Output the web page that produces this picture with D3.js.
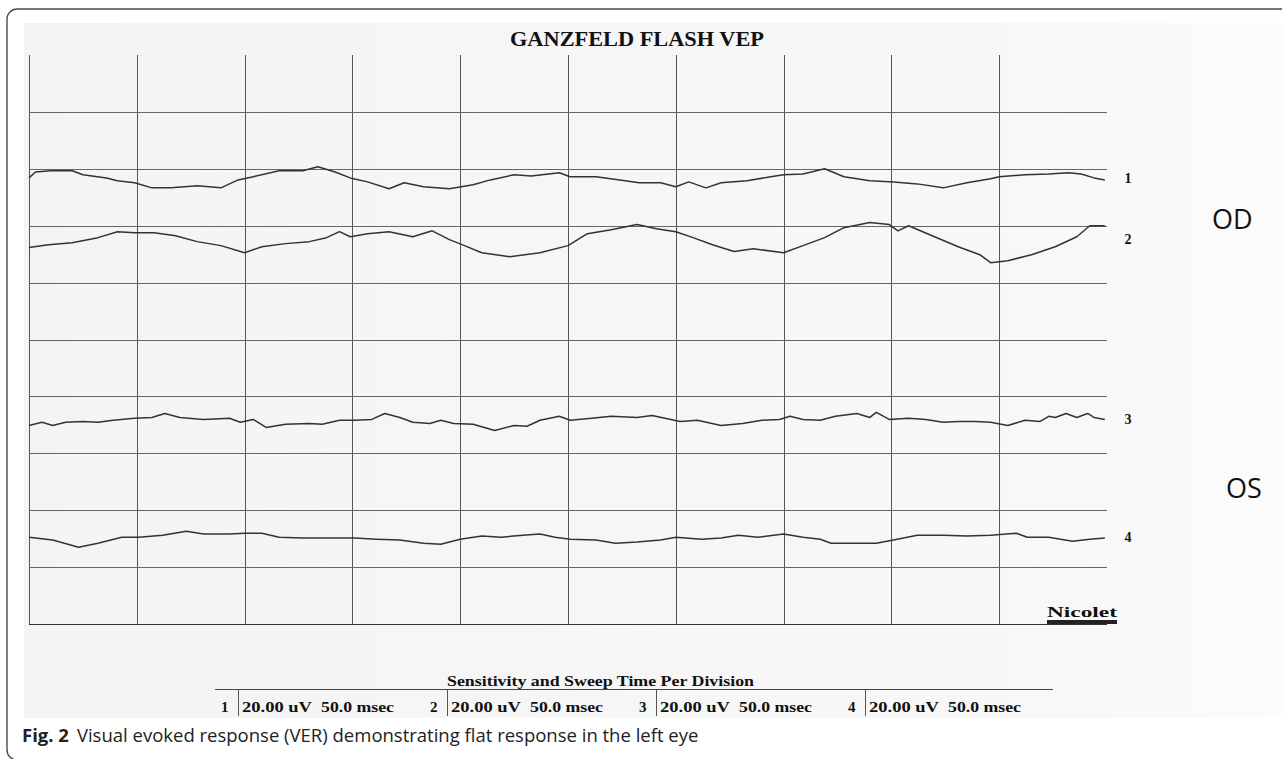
<!DOCTYPE html>
<html><head><meta charset="utf-8">
<script src="https://cdn.jsdelivr.net/npm/d3@7"></script>
<style>body{margin:0;background:#fff;}svg{display:block;}</style>
</head><body>
<svg id="c" width="1282" height="759"></svg>
<script>
// ---------- data ----------
const titleText = "GANZFELD FLASH VEP";
const channelLabels = ["1", "2", "3", "4"];
const eyeLabels = ["OD", "OS"];
const sensitivity = ["20.00 uV", "20.00 uV", "20.00 uV", "20.00 uV"];
const sweepTime = ["50.0 msec", "50.0 msec", "50.0 msec", "50.0 msec"];
const footerTitle = "Sensitivity and Sweep Time Per Division";
const brandText = "Nicolet";
const captionBold = "Fig. 2";
const captionText = "Visual evoked response (VER) demonstrating flat response in the left eye";

const timeTicks = d3.range(0, 500, 50);      // ms, one division = 50 ms
const ampTicks = d3.range(0, 200, 20);       // uV, one division = 20 uV
const channelRef = [160, 140, 80, 40];       // reference gridline (uV) of each channel

// channel 1 (OD)
const ch1Time = [0,3,10,20,25,36,41,49,57,66,78,89,97,104,116,127,134,142,149,157,167,174,183,195,206,214,225,233,246,251,263,274,283,293,300,306,314,321,333,344,350,359,369,378,390,401,412,424,435,446,450,462,473,482,488,494,499];
const ch1Amp = [-3.2,-1.1,-0.7,-0.7,-2.1,-3.2,-4.2,-4.9,-6.7,-6.7,-6.0,-6.7,-3.9,-2.8,-0.7,-0.7,0.7,-1.1,-3.2,-4.6,-7.0,-4.9,-6.3,-7.0,-5.6,-3.9,-2.1,-2.5,-1.4,-2.8,-2.8,-3.9,-4.9,-4.9,-6.3,-4.6,-6.7,-4.9,-4.2,-2.8,-2.1,-1.8,0,-2.8,-4.2,-4.6,-5.3,-6.7,-4.9,-3.5,-2.8,-2.1,-1.8,-1.4,-1.8,-3.2,-3.9];
// channel 2 (OD)
const ch2Time = [0,9,20,32,41,49,58,68,78,89,100,108,119,130,138,144,149,157,167,178,187,195,202,210,223,237,250,259,270,282,291,300,308,317,327,336,350,359,369,378,390,399,403,408,420,431,441,446,454,465,476,486,492,499];
const ch2Amp = [-7.7,-6.7,-6.0,-4.2,-2.1,-2.5,-2.5,-3.5,-5.6,-7.0,-9.5,-7.4,-6.3,-5.6,-4.2,-2.1,-3.9,-2.8,-2.1,-3.9,-1.8,-4.9,-7.0,-9.5,-10.9,-9.5,-7.0,-2.8,-1.4,0.4,-1.1,-2.1,-4.2,-6.7,-9.1,-8.1,-9.5,-7.0,-4.2,-0.7,1.1,0.4,-1.8,0,-3.9,-7.4,-10.2,-13.0,-12.3,-10.2,-7.4,-3.9,0,0];
// channel 3 (OS)
const ch3Time = [0,6,11,17,25,32,39,49,57,63,70,81,93,98,104,110,119,130,136,144,151,159,165,172,178,186,191,197,206,216,225,231,237,246,251,261,270,282,289,295,302,310,321,331,340,348,353,359,367,374,384,390,393,399,408,416,424,431,439,446,454,462,469,473,476,481,486,491,494,499];
const ch3Amp = [-10.2,-9.1,-10.2,-9.1,-8.8,-9.1,-8.4,-7.7,-7.4,-6.0,-7.4,-8.1,-7.7,-9.1,-8.1,-10.9,-9.8,-9.5,-9.8,-8.4,-8.4,-8.1,-6.0,-7.4,-9.1,-9.5,-8.4,-9.5,-9.8,-12.0,-10.2,-10.5,-8.4,-7.0,-8.4,-7.7,-7.0,-7.4,-6.7,-7.7,-8.8,-8.4,-10.2,-9.5,-8.4,-8.1,-7.0,-8.1,-8.4,-7.0,-6.0,-7.4,-5.6,-8.1,-7.7,-8.1,-9.1,-8.8,-8.8,-9.1,-10.2,-8.4,-8.8,-7.0,-7.4,-6.0,-7.4,-6.0,-7.4,-8.1];
// channel 4 (OS)
const ch4Time = [0,11,23,32,43,51,62,73,81,93,100,108,116,127,138,151,161,172,183,191,200,210,219,229,237,244,251,263,272,282,293,300,312,321,329,338,350,359,367,372,384,393,401,412,424,435,446,458,463,473,484,492,499];
const ch4Amp = [-9.5,-10.5,-13.0,-11.6,-9.5,-9.5,-8.8,-7.4,-8.4,-8.4,-8.1,-8.1,-9.5,-9.8,-9.8,-9.8,-10.2,-10.5,-11.6,-12.0,-10.2,-9.1,-9.5,-8.8,-8.4,-9.5,-10.2,-10.5,-11.6,-11.2,-10.5,-9.5,-10.2,-9.8,-8.8,-9.5,-8.4,-9.5,-10.2,-11.6,-11.6,-11.6,-10.5,-8.8,-8.8,-9.1,-8.8,-8.1,-9.5,-9.5,-10.9,-10.2,-9.8];

const channelTimes = [ch1Time, ch2Time, ch3Time, ch4Time];
const channelAmps = [ch1Amp, ch2Amp, ch3Amp, ch4Amp];

// ---------- drawing ----------
const svg = d3.select("#c");
const serif = "'Liberation Serif','Times New Roman',serif";
const sans = "'Open Sans','Noto Sans',sans-serif";

// scanned page background
const grad = svg.append("defs").append("linearGradient").attr("id", "scan");
grad.append("stop").attr("offset", "0%").attr("stop-color", "#f4f4f4");
grad.append("stop").attr("offset", "85%").attr("stop-color", "#f8f8f8");
grad.append("stop").attr("offset", "100%").attr("stop-color", "#fcfcfc");
svg.append("rect").attr("x", 24).attr("y", 23).attr("width", 1258).attr("height", 695)
  .attr("fill", "url(#scan)");

// outer rounded frame
svg.append("rect").attr("x", 7).attr("y", 9).attr("width", 1300).attr("height", 751)
  .attr("rx", 10).attr("fill", "none").attr("stroke", "#4a4a4a").attr("stroke-width", 1.4);

const x = d3.scaleLinear().domain([0, 500]).range([29, 1107]);
const y = d3.scaleLinear().domain([0, 200]).range([624, 55]);

// grid
const grid = svg.append("g").attr("stroke", "#555").attr("stroke-width", 1).attr("shape-rendering", "crispEdges");
grid.selectAll("line.v").data(timeTicks).join("line").attr("class", "v")
  .attr("x1", d => Math.round(x(d)) + 0.5).attr("x2", d => Math.round(x(d)) + 0.5)
  .attr("y1", y(200)).attr("y2", y(0));
grid.selectAll("line.h").data(ampTicks).join("line").attr("class", "h")
  .attr("x1", x(0)).attr("x2", x(500))
  .attr("y1", d => Math.round(y(d)) + 0.5).attr("y2", d => Math.round(y(d)) + 0.5)
  .attr("stroke", d => d === 0 ? "#333" : "#666");

// traces
const line = d3.line();
channelTimes.forEach((times, i) => {
  const pts = times.map((t, j) => [x(t), y(channelRef[i] + channelAmps[i][j])]);
  svg.append("path").attr("d", line(pts)).attr("fill", "none")
    .attr("stroke", "#333").attr("stroke-width", 1.5).attr("stroke-linejoin", "round");
  const mean = d3.mean(channelAmps[i]);
  svg.append("text").attr("x", 1128).attr("y", y(channelRef[i] + mean) + 4)
    .attr("text-anchor", "middle").attr("font-family", serif).attr("font-weight", "bold")
    .attr("font-size", 14).attr("fill", "#111").text(channelLabels[i]);
});

// title
svg.append("text").attr("x", 637).attr("y", 46).attr("text-anchor", "middle")
  .attr("font-family", serif).attr("font-weight", "bold").attr("font-size", 21)
  .attr("textLength", 254).attr("lengthAdjust", "spacingAndGlyphs")
  .attr("fill", "#111").text(titleText);

// eye labels
svg.append("text").attr("x", 1212).attr("y", 229).attr("font-family", sans)
  .attr("font-size", 27).attr("fill", "#111").text(eyeLabels[0]);
svg.append("text").attr("x", 1226).attr("y", 498).attr("font-family", sans)
  .attr("font-size", 27).attr("fill", "#111").text(eyeLabels[1]);

// brand
svg.append("text").attr("x", 1047).attr("y", 617).attr("font-family", serif)
  .attr("font-weight", "bold").attr("font-size", 15).attr("textLength", 70)
  .attr("lengthAdjust", "spacingAndGlyphs").attr("fill", "#111").text(brandText);
svg.append("rect").attr("x", 1047).attr("y", 620).attr("width", 70).attr("height", 4).attr("fill", "#222");

// footer
svg.append("text").attr("x", 447).attr("y", 686).attr("font-family", serif)
  .attr("font-weight", "bold").attr("font-size", 15).attr("textLength", 307)
  .attr("lengthAdjust", "spacingAndGlyphs").attr("fill", "#111").text(footerTitle);
svg.append("line").attr("x1", 215).attr("x2", 1053).attr("y1", 689.5).attr("y2", 689.5)
  .attr("stroke", "#444").attr("stroke-width", 1.2);
const foot = svg.append("g").attr("font-family", serif).attr("font-weight", "bold")
  .attr("font-size", 15).attr("fill", "#111");
channelLabels.forEach((c, i) => {
  const X = 221 + i * 209;
  foot.append("text").attr("x", X).attr("y", 712).text(c);
  foot.append("line").attr("x1", X + 17.5).attr("x2", X + 17.5).attr("y1", 690).attr("y2", 716)
    .attr("stroke", "#555").attr("stroke-width", 1);
  foot.append("text").attr("x", X + 21).attr("y", 712).attr("textLength", 70)
    .attr("lengthAdjust", "spacingAndGlyphs").text(sensitivity[i]);
  foot.append("text").attr("x", X + 100).attr("y", 712).attr("textLength", 73)
    .attr("lengthAdjust", "spacingAndGlyphs").text(sweepTime[i]);
});

// caption
const cap = svg.append("text").attr("x", 22).attr("y", 742).attr("font-family", sans)
  .attr("font-size", 18.5).attr("fill", "#222");
cap.append("tspan").attr("font-weight", "bold").text(captionBold);
cap.append("tspan").attr("dx", 8).text(captionText);
</script>
</body></html>
